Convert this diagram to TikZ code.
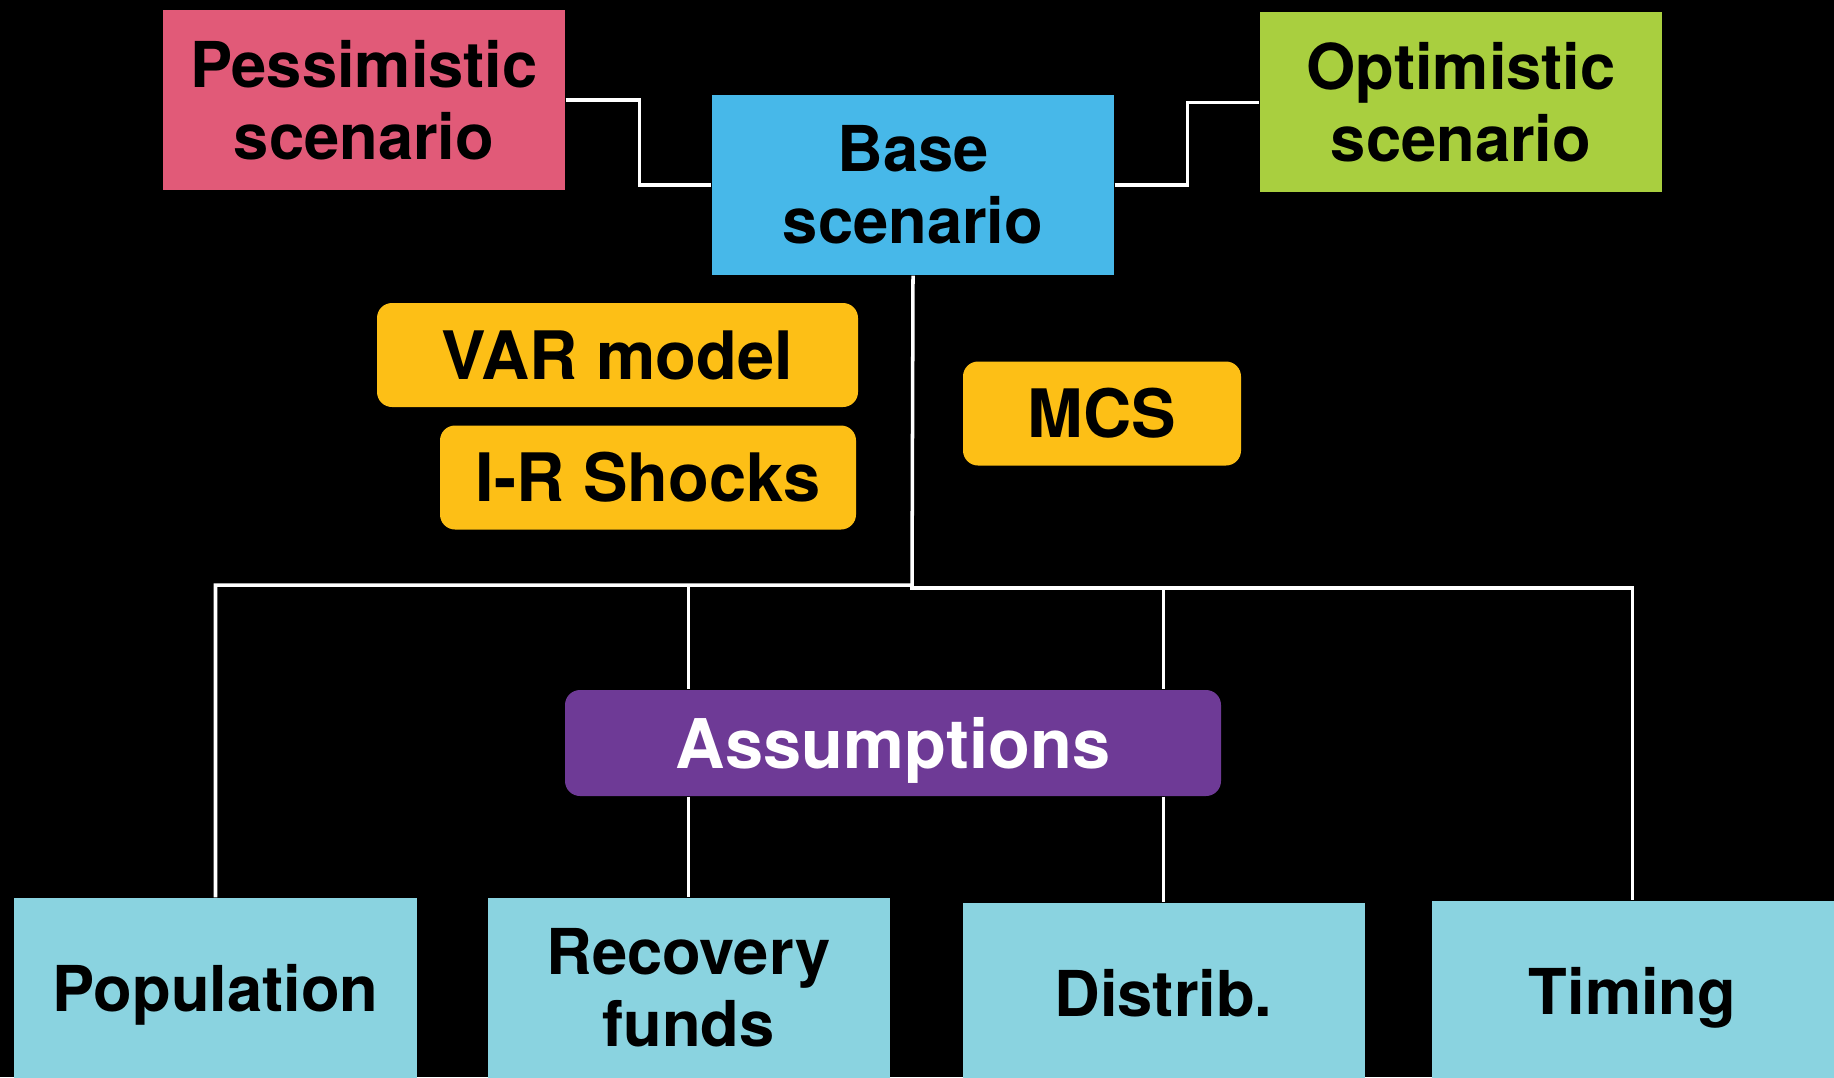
\documentclass[tikz,border=0pt]{standalone}
\usepackage{fontspec}
\setmainfont{TeX Gyre Heros}
\usepackage{tikz}
\usepackage{xcolor}
\definecolor{pesscol}{HTML}{E15A78}
\definecolor{basecol}{HTML}{47B8E9}
\definecolor{optcol}{HTML}{A9CF3F}
\definecolor{toolcol}{HTML}{FDBF16}
\definecolor{assumcol}{HTML}{6E3A96}
\definecolor{leafcol}{HTML}{8AD3E0}

\begin{document}
\begin{tikzpicture}[
  scen/.style={minimum width=4.02cm, minimum height=1.8cm, inner sep=0pt, align=center,
    font=\fontsize{18}{20.5}\selectfont\bfseries},
  tool/.style={fill=toolcol, rounded corners=0.15cm, minimum height=1.04cm, inner sep=0pt,
    font=\fontsize{19}{22}\selectfont\bfseries},
  leaf/.style={scen, fill=leafcol},
  link/.style={white, line width=1pt}
]
\useasboundingbox (0,0) rectangle (18.34,-10.77);
\fill[black] (0,0) rectangle (18.34,-10.77);
\clip (0,0) rectangle (18.34,-10.77);

% scenarios
\node[scen, fill=pesscol] (pess) at (3.64,-1.00) {Pessimistic\\scenario};
\node[scen, fill=basecol] (base) at (9.13,-1.85) {Base\\scenario};
\node[scen, fill=optcol]  (opt)  at (14.61,-1.025) {Optimistic\\scenario};

% methods
\node[tool, minimum width=4.81cm] (var) at (6.175,-3.55) {VAR model};
\node[tool, minimum width=4.16cm] (irs) at (6.48,-4.775) {I-R Shocks};
\node[tool, minimum width=2.78cm] (mcs) at (11.02,-4.135) {MCS};

\node[fill=assumcol, text=white, rounded corners=0.15cm, minimum width=6.56cm, minimum height=1.06cm,
  inner sep=0pt, text depth=0pt, font=\fontsize{19.5}{22}\selectfont\bfseries] (assum) at (8.93,-7.43) {Assumptions};

% assumptions
\node[leaf, text depth=0pt] (pop)  at (2.155,-9.88) {Population};
\node[leaf] (rec)  at (6.885,-9.88) {Recovery\\funds};
\node[leaf] (dist) at (11.635,-9.93) {Distrib.};
\node[leaf, text depth=0pt] (tim)  at (16.325,-9.91) {Timing};

\draw[link] (pess.east) -- ++(0.74,0) |- (base.west);
\draw[link] (base.east) -- ++(0.73,0) |- (opt.west);

\coordinate (split) at (9.12,-5.85);
\coordinate (splitr) at (9.12,-5.88);
\draw[link] (base.south) -- (split) -| (pop.north);
\draw[link] (split) -- (splitr) -| (tim.north);
\draw[link] (rec.north |- split) -- (rec.north |- assum.north);
\draw[link] (rec.north |- assum.south) -- (rec.north);
\draw[link] (dist.north |- splitr) -- (dist.north |- assum.north);
\draw[link] (dist.north |- assum.south) -- (dist.north);

\end{tikzpicture}
\end{document}
